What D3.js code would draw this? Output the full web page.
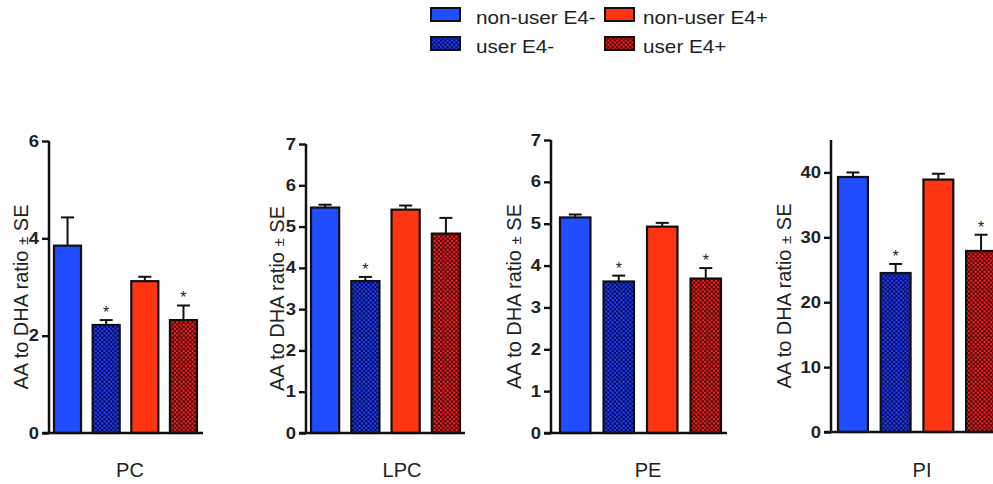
<!DOCTYPE html>
<html>
<head>
<meta charset="utf-8">
<script src="https://cdn.jsdelivr.net/npm/d3@7"></script>
<style>
  body { margin: 0; background: white; }
  svg { display: block; font-family: "Liberation Sans", Arial, sans-serif; }
</style>
</head>
<body>
<svg id="chart" width="993" height="484"></svg>
<script>
// groups, in drawing order
const groups = ['non-user E4-', 'user E4-', 'non-user E4+', 'user E4+'];

// lipid classes (one panel each)
const lipids = ['PC', 'LPC', 'PE', 'PI'];

// mean AA:DHA ratio per lipid, one value per group
const meanPC = [3.85, 2.22, 3.12, 2.32];
const meanLPC = [5.46, 3.68, 5.41, 4.83];
const meanPE = [5.15, 3.62, 4.93, 3.69];
const meanPI = [39.3, 24.5, 38.9, 27.9];

// standard errors
const sePC = [0.58, 0.10, 0.09, 0.30];
const seLPC = [0.07, 0.10, 0.10, 0.38];
const sePE = [0.07, 0.14, 0.09, 0.25];
const sePI = [0.7, 1.4, 0.9, 2.5];

// significant difference vs non-user, per group
const sigPC = [false, true, false, true];
const sigLPC = [false, true, false, false];
const sigPE = [false, true, false, true];
const sigPI = [false, true, false, true];

// y axis domains and tick values
const yMax = [6, 7, 7, 45];
const yTicks = [[0, 2, 4, 6], [0, 1, 2, 3, 4, 5, 6, 7], [0, 1, 2, 3, 4, 5, 6, 7], [0, 10, 20, 30, 40]];

const means = [meanPC, meanLPC, meanPE, meanPI];
const errors = [sePC, seLPC, sePE, sePI];
const stars = [sigPC, sigLPC, sigPE, sigPI];

// panel geometry (axis position, bar range, baseline end)
const panels = [
    {axisX: 49, top: 141, bottom: 433, barStart: 54, barEnd: 197, lineEnd: 203, labelX: 130, titleX: 21},
    {axisX: 306, top: 144, bottom: 433, barStart: 311, barEnd: 460, lineEnd: 465, labelX: 402, titleX: 277},
    {axisX: 551, top: 140, bottom: 433, barStart: 560, barEnd: 721, lineEnd: 727, labelX: 648, titleX: 514},
    {axisX: 831, top: 140, bottom: 432, barStart: 838, barEnd: 996, lineEnd: 1000, labelX: 922, titleX: 784}
];

const fills = {
    'non-user E4-': '#1f4dff',
    'user E4-': 'url(#checkBlue)',
    'non-user E4+': '#ff3412',
    'user E4+': 'url(#checkRed)'
};

const svg = d3.select('#chart');

// widen text a little, the source figure is stretched horizontally
function stretch(sel, k) {
    sel.each(function () {
        var w = this.getComputedTextLength();
        d3.select(this)
            .attr('textLength', w * k)
            .attr('lengthAdjust', 'spacingAndGlyphs');
    });
}

// checkered patterns for the user groups
const defs = svg.append('defs');
function addCheck(id, dark, light) {
    var p = defs.append('pattern')
        .attr('id', id)
        .attr('patternUnits', 'userSpaceOnUse')
        .attr('width', 4.4)
        .attr('height', 4.4);
    p.append('rect').attr('width', 4.4).attr('height', 4.4).attr('fill', dark);
    p.append('circle').attr('cx', 1.1).attr('cy', 1.1).attr('r', 1.15).attr('fill', light);
    p.append('circle').attr('cx', 3.3).attr('cy', 3.3).attr('r', 1.15).attr('fill', light);
}
addCheck('checkBlue', '#000a5e', '#2a45ff');
addCheck('checkRed', '#4a0000', '#ff2a2a');

panels.forEach(function (pan, i) {
    var g = svg.append('g');

    var y = d3.scaleLinear()
        .domain([0, yMax[i]])
        .range([pan.bottom, pan.top]);

    var x = d3.scaleBand()
        .domain(groups)
        .range([pan.barStart, pan.barEnd])
        .paddingInner(0.3)
        .paddingOuter(0);

    var rows = groups.map(function (grp, j) {
        return {group: grp, mean: means[i][j], se: errors[i][j], sig: stars[i][j]};
    });

    // bars
    g.selectAll('rect.bar')
        .data(rows)
        .enter()
        .append('rect')
        .attr('class', 'bar')
        .attr('x', d => x(d.group))
        .attr('y', d => y(d.mean))
        .attr('width', x.bandwidth())
        .attr('height', d => pan.bottom - y(d.mean))
        .attr('fill', d => fills[d.group])
        .attr('stroke', '#111')
        .attr('stroke-width', 2.2);

    // error bars (upper only)
    var err = g.selectAll('g.err')
        .data(rows)
        .enter()
        .append('g')
        .attr('class', 'err')
        .attr('stroke', '#111')
        .attr('stroke-width', 2);
    err.append('line')
        .attr('x1', d => x(d.group) + x.bandwidth() / 2)
        .attr('x2', d => x(d.group) + x.bandwidth() / 2)
        .attr('y1', d => y(d.mean))
        .attr('y2', d => y(d.mean + d.se));
    err.append('line')
        .attr('x1', d => x(d.group) + x.bandwidth() / 2 - 6.5)
        .attr('x2', d => x(d.group) + x.bandwidth() / 2 + 6.5)
        .attr('y1', d => y(d.mean + d.se))
        .attr('y2', d => y(d.mean + d.se));

    // asterisks
    g.selectAll('text.star')
        .data(rows.filter(d => d.sig))
        .enter()
        .append('text')
        .attr('class', 'star')
        .attr('x', d => x(d.group) + x.bandwidth() / 2)
        .attr('y', d => y(d.mean + d.se) - 2)
        .attr('text-anchor', 'middle')
        .attr('font-size', 16)
        .attr('fill', '#222')
        .text('*');

    // y axis
    var axis = d3.axisLeft(y)
        .tickValues(yTicks[i])
        .tickSize(7)
        .tickPadding(3)
        .tickFormat(d3.format('d'));
    var ax = g.append('g')
        .attr('transform', `translate(${pan.axisX},0)`)
        .call(axis);
    ax.select('.domain')
        .attr('d', `M0,${pan.top}V${pan.bottom}`)
        .attr('stroke', '#111')
        .attr('stroke-width', 2.5);
    ax.selectAll('.tick line').attr('stroke', '#111').attr('stroke-width', 2.4);
    ax.selectAll('.tick text')
        .attr('fill', '#222')
        .attr('font-size', 16)
        .attr('font-weight', 'bold')
        .attr('font-family', '"Liberation Sans", Arial, sans-serif')
        .call(stretch, 1.15);

    // baseline
    g.append('line')
        .attr('x1', pan.axisX - 7)
        .attr('x2', pan.lineEnd)
        .attr('y1', pan.bottom)
        .attr('y2', pan.bottom)
        .attr('stroke', '#111')
        .attr('stroke-width', 2.5);

    // y title
    var title = g.append('text')
        .attr('transform', `translate(${pan.titleX},${(pan.top + pan.bottom) / 2 + 10}) rotate(-90)`)
        .attr('text-anchor', 'middle')
        .attr('dy', '0.35em')
        .attr('font-size', 20)
        .attr('fill', '#222');
    title.append('tspan').text('AA to DHA ratio  ');
    title.append('tspan').attr('font-size', 15).text('±');
    title.append('tspan').text(' SE');

    // x label
    g.append('text')
        .attr('x', pan.labelX)
        .attr('y', 477)
        .attr('text-anchor', 'middle')
        .attr('font-size', 20)
        .attr('fill', '#222')
        .text(lipids[i]);
});

// legend
const legendPos = [
    {x: 431, y: 8}, {x: 431, y: 37}, {x: 605, y: 8}, {x: 605, y: 37}
];
const legend = svg.append('g')
    .selectAll('g')
    .data(groups)
    .enter()
    .append('g')
    .attr('transform', (d, i) => `translate(${legendPos[i].x},${legendPos[i].y})`);
legend.append('rect')
    .attr('width', 29)
    .attr('height', 13)
    .attr('fill', d => fills[d])
    .attr('stroke', '#111')
    .attr('stroke-width', 2);
legend.append('text')
    .attr('x', (d, i) => i < 2 ? 45 : 38)
    .attr('y', 15.5)
    .attr('font-size', 19)
    .attr('fill', '#222')
    .text(d => d)
    .call(stretch, 1.09);
</script>
</body>
</html>
